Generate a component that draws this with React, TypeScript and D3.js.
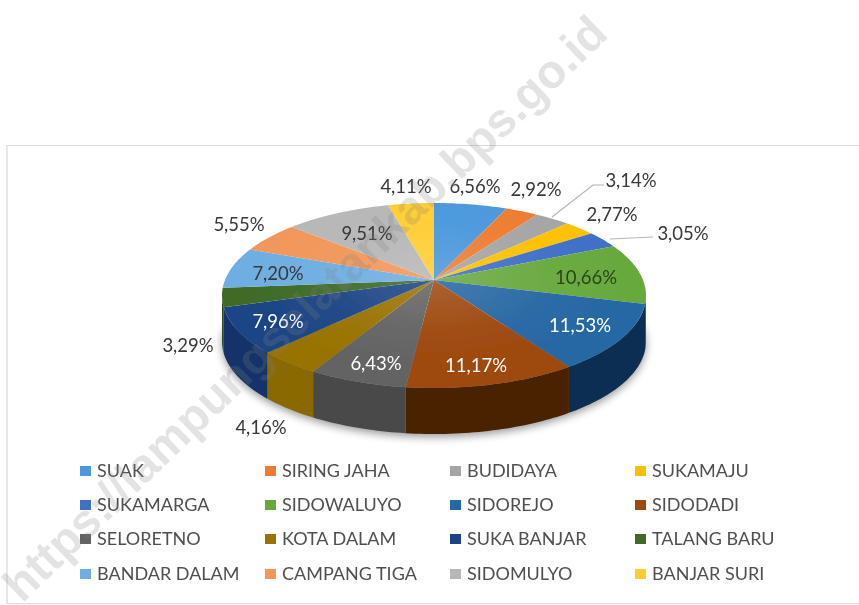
import React from "react";
import * as d3 from "d3";

const categories = ["SUAK","SIRING JAHA","BUDIDAYA","SUKAMAJU","SUKAMARGA","SIDOWALUYO","SIDOREJO","SIDODADI","SELORETNO","KOTA DALAM","SUKA BANJAR","TALANG BARU","BANDAR DALAM","CAMPANG TIGA","SIDOMULYO","BANJAR SURI"];
const values = [6.56,2.92,3.14,2.77,3.05,10.66,11.53,11.17,6.43,4.16,7.96,3.29,7.20,5.55,9.51,4.11];
const labelsText = ["6,56%","2,92%","3,14%","2,77%","3,05%","10,66%","11,53%","11,17%","6,43%","4,16%","7,96%","3,29%","7,20%","5,55%","9,51%","4,11%"];

const topColors = ["#4b98dc","#ed7d31","#a5a5a5","#ffc000","#3f6fc8","#68a93e","#2767a3","#9e480e","#636363","#997300","#1d4585","#3f6b28","#6eaee2","#f1975a","#b7b7b7","#ffcd33"];
const wallColors = ["#4b98dc","#ed7d31","#a5a5a5","#ffc000","#3f6fc8","#35591f","#0e2f52","#4a2000","#4a4a4a","#8a6a00","#12336a","#2c4a1c","#4a7aa0","#a5693f","#808080","#b28f24"];
const labelColors = ["#383838","#383838","#383838","#383838","#383838","#2a451c","#ffffff","#ffffff","#ffffff","#383838","#ffffff","#383838","#383838","#383838","#383838","#383838"];
const labelCenters: [number, number][] = [[475,186],[536,189],[631,180],[612,214],[683,233],[586,277],[580,325],[476,365],[376,363],[261,427],[278,321],[188,345],[278,273],[239,224],[367,233],[406,186]];
const legendX = [80, 265, 450, 635];
const legendY = [471, 505, 539, 574];

// perspective ellipse
const cx = 434, cy = 280, depth = 46;
const k = 0.1676, A = 209, B = 89.9;
const proj = (t: number, dy = 0): [number, number] => {
  const x = Math.sin(t), y = Math.cos(t), w = 1 + k * y;
  return [cx + (A * x) / w, cy - (B * y) / w + dy];
};
const frontStart = Math.acos(-k), frontEnd = 2 * Math.PI - frontStart;
const line = d3.line();
const sample = (a: number, b: number, dy = 0) => {
  const n = Math.max(2, Math.ceil((b - a) / 0.02));
  return d3.range(n + 1).map((i) => proj(a + ((b - a) * i) / n, dy));
};
const arcs = d3.pie<number>().sort(null).value((d) => d)(values);
const topPath = (a: number, b: number) => line([[cx, cy], ...sample(a, b)]) + "Z";
const wallPath = (a: number, b: number) => {
  const s = Math.max(a, frontStart), e = Math.min(b, frontEnd);
  if (e <= s) return null;
  return line([...sample(s, e), ...sample(s, e, depth).reverse()]) + "Z";
};
const font = "Lato, 'Open Sans', sans-serif";

export default function App() {
  return (
    <svg width={859} height={605} style={{ position: "absolute", left: 0, top: 0, display: "block", background: "#fff" }}>
      <defs>
        <filter id="soft" x="-5%" y="-5%" width="110%" height="110%"><feGaussianBlur stdDeviation="0.7" /></filter>
        <filter id="shadow" x="-20%" y="-20%" width="140%" height="140%"><feGaussianBlur stdDeviation="4" /></filter>
        <radialGradient id="sheen" gradientUnits="userSpaceOnUse" cx={0} cy={0} r={1} gradientTransform={`translate(${cx} ${cy}) scale(190 90)`}>
          <stop offset="0" stopColor="#fff" stopOpacity={0.14} />
          <stop offset="0.6" stopColor="#fff" stopOpacity={0.03} />
          <stop offset="1" stopColor="#fff" stopOpacity={0} />
        </radialGradient>
      </defs>
      <g filter="url(#soft)">
        <path d="M859 145.5H7V603.5H859" fill="none" stroke="#d9d9d9" strokeWidth={1.2} />
        <path d={line(sample(frontStart - 0.2, frontEnd + 0.2, depth + 3)) + "Z"} fill="#000" opacity={0.4} filter="url(#shadow)" />
        {arcs.map((a, i) => {
          const d = wallPath(a.startAngle, a.endAngle);
          return d ? <path key={i} d={d} fill={wallColors[i]} /> : null;
        })}
        {arcs.map((a, i) => (
          <path key={i} d={topPath(a.startAngle, a.endAngle)} fill={topColors[i]} />
        ))}
        <path d={line(sample(0, 2 * Math.PI)) + "Z"} fill="url(#sheen)" />
        <path d="M552 217L593 185H604M610 239L653 237" fill="none" stroke="#b5b5b5" strokeWidth={1.2} />
        {labelsText.map((t, i) => (
          <text key={i} x={labelCenters[i][0]} y={labelCenters[i][1]} dy="0.36em" textAnchor="middle" fontFamily={font} fontSize={18.5} fill={labelColors[i]}>{t}</text>
        ))}
        {categories.map((c, i) => {
          const x = legendX[i % 4], y = legendY[Math.floor(i / 4)];
          return (
            <g key={c}>
              <rect x={x} y={y - 5} width={11} height={10} fill={topColors[i]} />
              <text x={x + 17} y={y} dy="0.36em" fontFamily={font} fontSize={18} fill="#505050">{c}</text>
            </g>
          );
        })}
        <text transform="translate(610 36) rotate(-44)" textAnchor="end" fontFamily="'Liberation Sans', Arial, sans-serif" fontWeight="bold" fontSize={47} fill="#808080" opacity={0.22}>https://lampungselatankab.bps.go.id</text>
      </g>
    </svg>
  );
}
